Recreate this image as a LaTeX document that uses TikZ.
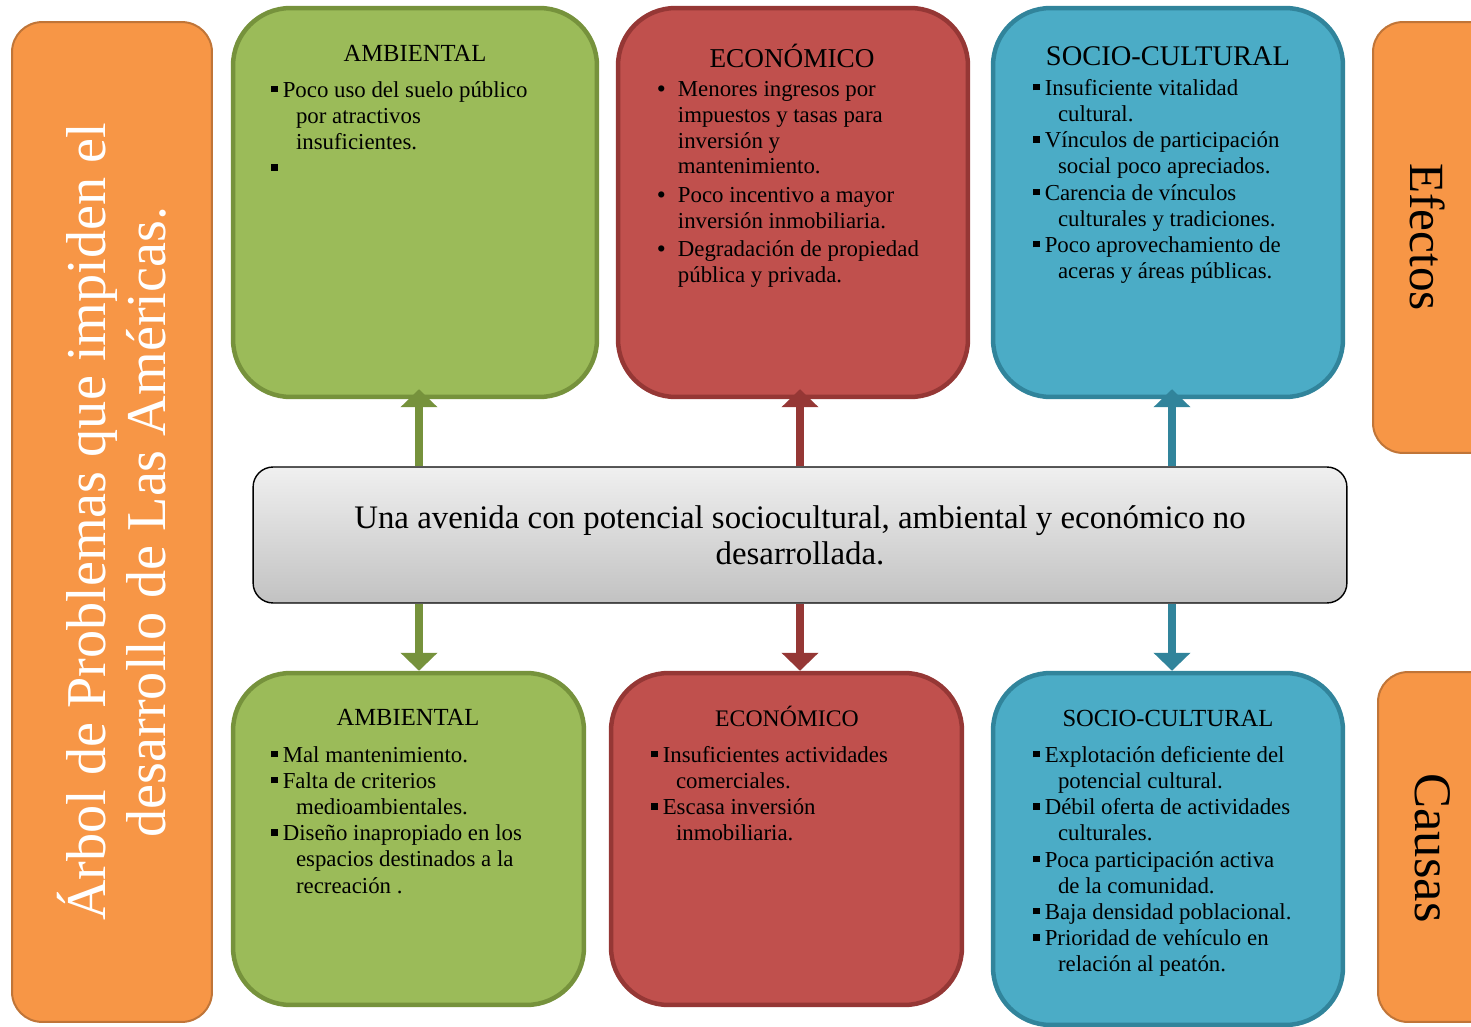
\documentclass[tikz,border=0pt]{standalone}
\usepackage{fontspec}
\setmainfont{Liberation Serif}
\usepackage{tikz}
\usetikzlibrary{arrows.meta}

\definecolor{verde}{HTML}{9BBB59}
\definecolor{verdeosc}{HTML}{76923C}
\definecolor{rojo}{HTML}{C0504D}
\definecolor{rojoosc}{HTML}{953735}
\definecolor{azul}{HTML}{4BACC6}
\definecolor{azulosc}{HTML}{31849B}
\definecolor{naranja}{HTML}{F79646}
\definecolor{naranjaosc}{HTML}{C07538}

\newcommand{\cuad}{\makebox[0.5em][l]{\rule[0.22em]{0.28em}{0.28em}}}
\newcommand{\punto}{\makebox[0.9em][l]{\bfseries\textbullet}}
\newcommand{\sigue}{\hspace*{1.08em}}
\newcommand{\sigueb}{\hspace*{0.9em}}

\tikzset{
  caja/.style={line width=0.09cm, rounded corners=1.15cm, inner sep=0pt},
  ambiente/.style={caja, draw=verdeosc, fill=verde},
  economia/.style={caja, draw=rojoosc, fill=rojo},
  sociedad/.style={caja, draw=azulosc, fill=azul},
  lado/.style={draw=naranjaosc, fill=naranja, line width=0.04cm, rounded corners=0.6cm, inner sep=0pt},
  titulo/.style={inner sep=0pt, font=\fontsize{14}{16}\selectfont},
  lista/.style={inner sep=0pt, anchor=north west, align=left, font=\fontsize{13}{14.9}\selectfont},
  flecha/.style={line width=0.16cm, -{Triangle[width=0.72cm,length=0.36cm]}}
}

\begin{document}
\begin{tikzpicture}[x=0.02cm, y=-0.02cm]
    \useasboundingbox (0,0) rectangle (1471,1027);

    \coordinate (aV) at (419,0);
    \coordinate (aR) at (800,0);
    \coordinate (aA) at (1172,0);

    \node[lado, minimum width=4cm, minimum height=20cm] (arbol) at (112,522) {};
    \node[lado, minimum width=2.54cm, minimum height=8.62cm] (efe) at (1436.5,237.5) {};
    \node[lado, minimum width=2.44cm, minimum height=7cm] (cau) at (1439,847) {};

    \node[ambiente, minimum width=7.28cm, minimum height=7.78cm] (ambS) at (415,202.5) {};
    \node[economia, minimum width=7cm, minimum height=7.78cm] (ecoS) at (793,202.5) {};
    \node[sociedad, minimum width=7cm, minimum height=7.78cm] (socS) at (1168,202.5) {};

    \node[ambiente, minimum width=7.02cm, minimum height=6.64cm] (ambI) at (408.5,839) {};
    \node[economia, minimum width=7.02cm, minimum height=6.64cm] (ecoI) at (786.5,839) {};
    \node[sociedad, minimum width=7cm, minimum height=7.04cm] (socI) at (1168,849) {};

    \node[draw=black, line width=0.8pt, rounded corners=0.4cm, top color=gray!12, bottom color=gray!48,
          minimum width=21.88cm, minimum height=2.72cm, align=center,
          font=\fontsize{18.7}{20.5}\selectfont] (avenida) at (800,535)
          {Una avenida con potencial sociocultural, ambiental y económico no\\ desarrollada.};

    \draw[flecha, verdeosc] (avenida.north -| aV) -- ([yshift=0.2cm]ambS.south -| aV);
    \draw[flecha, rojoosc] (avenida.north -| aR) -- ([yshift=0.2cm]ecoS.south -| aR);
    \draw[flecha, azulosc] (avenida.north -| aA) -- ([yshift=0.2cm]socS.south -| aA);
    \draw[flecha, verdeosc] (avenida.south -| aV) -- (ambI.north -| aV);
    \draw[flecha, rojoosc] (avenida.south -| aR) -- (ecoI.north -| aR);
    \draw[flecha, azulosc] (avenida.south -| aA) -- (socI.north -| aA);

    \node[rotate=90, white, align=center, font=\fontsize{32}{34}\selectfont] (arboltx) at (arbol)
        {Árbol de Problemas que impiden el\\ desarrollo de Las Américas.};
    \node[rotate=-90, font=\fontsize{28}{32}\selectfont] (efetx) at (1428,237) {Efectos};
    \node[rotate=-90, font=\fontsize{30}{32}\selectfont] (cautx) at (1433,848) {Causas};

    \node[titulo] (ambStit) at (415,53) {AMBIENTAL};
    \node[titulo, font=\fontsize{15.5}{17}\selectfont] (ecoStit) at (792,56) {ECONÓMICO};
    \node[titulo, font=\fontsize{16.2}{18}\selectfont] (socStit) at (1168,56) {SOCIO-CULTURAL};
    \node[titulo] (ambItit) at (408,717) {AMBIENTAL};
    \node[titulo, font=\fontsize{13.5}{16}\selectfont] (ecoItit) at (787,716) {ECONÓMICO};
    \node[titulo] (socItit) at (1168,718) {SOCIO-CULTURAL};

    \node[lista] (ambStx) at (271,81)
        {\cuad Poco uso del suelo público\\ \sigue por atractivos\\ \sigue insuficientes.\\ \cuad};
    \node[lista, font=\fontsize{13}{14.7}\selectfont] (ecoStx) at (657,81)
        {\punto Menores ingresos por\\ \sigueb impuestos y tasas para\\
         \sigueb inversión y\\ \sigueb mantenimiento.\\[1.5pt]
         \punto Poco incentivo a mayor\\ \sigueb inversión inmobiliaria.\\[1.2pt]
         \punto Degradación de propiedad\\ \sigueb pública y privada.};
    \node[lista] (socStx) at (1033,79)
        {\cuad Insuficiente vitalidad\\ \sigue cultural.\\
         \cuad Vínculos de participación\\ \sigue social poco apreciados.\\
         \cuad Carencia de vínculos\\ \sigue culturales y tradiciones.\\
         \cuad Poco aprovechamiento de\\ \sigue aceras y áreas públicas.};

    \node[lista] (ambItx) at (271,746)
        {\cuad Mal mantenimiento.\\ \cuad Falta de criterios\\ \sigue medioambientales.\\
         \cuad Diseño inapropiado en los\\ \sigue espacios destinados a la\\ \sigue recreación .};
    \node[lista] (ecoItx) at (651,746)
        {\cuad Insuficientes actividades\\ \sigue comerciales.\\ \cuad Escasa inversión\\ \sigue inmobiliaria.};
    \node[lista] (socItx) at (1033,746)
        {\cuad Explotación deficiente del\\ \sigue potencial cultural.\\
         \cuad Débil oferta de actividades\\ \sigue culturales.\\
         \cuad Poca participación activa\\ \sigue de la comunidad.\\
         \cuad Baja densidad poblacional.\\
         \cuad Prioridad de vehículo en\\ \sigue relación al peatón.};
\end{tikzpicture}
\end{document}
